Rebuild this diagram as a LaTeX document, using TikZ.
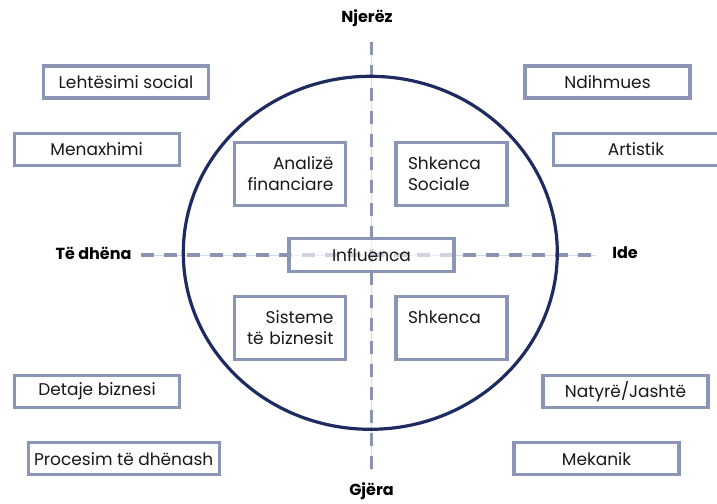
\documentclass[tikz,border=0pt]{standalone}
\usepackage{fontspec}
\usetikzlibrary{shapes.geometric}
\setmainfont{Poppins}
\definecolor{boxc}{HTML}{8B95B5}
\definecolor{navy}{HTML}{1D2B61}
\definecolor{dashc}{HTML}{8A93B2}
\definecolor{thinc}{HTML}{D5D9E6}
\begin{document}
\begin{tikzpicture}[x=1pt,y=-1pt,
  font=\fontsize{17}{21}\selectfont,
  box/.style={draw=boxc, line width=3.2pt, fill=white, inner sep=0pt, text=black!90},
  outerbox/.style={box, minimum width=165pt, minimum height=32pt},
  innerbox/.style={box, minimum height=63pt, text width=87pt, inner xsep=12pt},
  axislabel/.style={font=\fontsize{16}{19}\selectfont\bfseries, text=black, inner sep=0pt},
  axisdash/.style={draw=dashc, line width=3.2pt, dash pattern=on 13pt off 10pt},
  axisthin/.style={draw=thinc, line width=1pt}
]
\useasboundingbox (0,0) rectangle (717,503);

% axes
\coordinate (vt) at (371.5,42);
\coordinate (vb) at (371.5,470);
\coordinate (hl) at (141,255);
\coordinate (hr) at (596,255);
\draw[axisthin] (vt) -- (vb);
\draw[axisthin] (hl) -- (hr);
\draw[axisdash] (vt) -- (vb);
\draw[axisdash] (hl) -- (hr);

% circle
\node[draw=navy, line width=3.2pt, ellipse, minimum width=374pt, minimum height=353pt, inner sep=0pt] (circ) at (370.3,252.8) {};

% axis labels
\node[axislabel] (njerez) at (367,18.5) {Njerëz};
\node[axislabel] (gjera) at (371.5,491.5) {Gjëra};
\node[axislabel] (tedhena) at (93.5,253) {Të dhëna};
\node[axislabel] (ide) at (625,253) {Ide};

% inner boxes
\node[innerbox, align=right] (analize) at (290,174) {Analizë\\financiare};
\node[innerbox, align=left] (shksoc) at (451.5,174) {Shkenca\\Sociale};
\node[innerbox, align=right] (sisteme) at (290,328) {Sisteme\\të biznesit};
\node[innerbox, align=left] (shkenca) at (451.5,328) {Shkenca\\\mbox{}};

% influenca
\node[box, fill opacity=0.6, text opacity=1, minimum width=165pt, minimum height=33pt] (influ) at (371.5,254.7) {Influenca};

% outer boxes
\node[outerbox] (leht) at (126,82) {Lehtësimi social};
\node[outerbox] (menax) at (96.7,149.5) {Menaxhimi};
\node[outerbox] (detaje) at (97,391.5) {Detaje biznesi};
\node[outerbox, minimum width=191pt] (procesim) at (123.7,458.7) {Procesim të dhënash};
\node[outerbox] (ndihm) at (607.5,82) {Ndihmues};
\node[outerbox] (artist) at (636,149.5) {Artistik};
\node[outerbox] (natyre) at (625.5,391.5) {Natyrë/Jashtë};
\node[outerbox] (mekan) at (596.5,458.7) {Mekanik};
\end{tikzpicture}
\end{document}
